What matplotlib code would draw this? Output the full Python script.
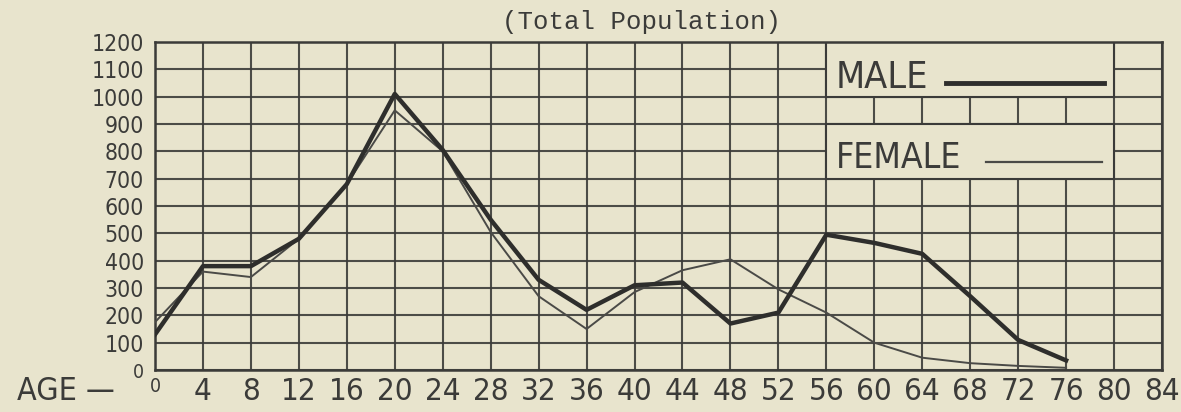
import matplotlib
matplotlib.use("Agg")
import matplotlib.pyplot as plt
from matplotlib.patches import Rectangle

# ---- data ----
ages = [0, 4, 8, 12, 16, 20, 24, 28, 32, 36, 40, 44, 48, 52, 56, 60, 64, 68, 72, 76]
male = [130, 380, 380, 480, 680, 1010, 805, 550, 330, 220, 310, 320, 170, 210, 495, 465, 425, 270, 110, 35]
female = [175, 360, 340, 480, 680, 950, 800, 505, 270, 150, 285, 365, 405, 295, 210, 100, 45, 25, 15, 8]
x_ticks = list(range(0, 85, 4))
x_labels = [str(v) for v in x_ticks]
y_ticks = list(range(0, 1201, 100))
y_labels = [str(v) for v in y_ticks]
title = "(Total Population)"
legend_labels = ["MALE", "FEMALE"]

BG = "#e8e4cd"
INK = "#3b3b39"
LETTER = dict(family="DejaVu Sans", fontstretch="condensed")

W, H = 1181, 412
fig = plt.figure(figsize=(W / 100, H / 100), dpi=100, facecolor=BG)
left, right, top, bottom = 155, 1162, 42, 370
ax = fig.add_axes([left / W, 1 - bottom / H, (right - left) / W, (bottom - top) / H])
ax.set_facecolor(BG)
ax.set_xlim(0, 84)
ax.set_ylim(0, 1200)

ax.set_xticks(x_ticks)
ax.set_yticks(y_ticks)
ax.grid(True, color=INK, linewidth=1.5, alpha=0.9)
for s in ax.spines.values():
    s.set_color(INK)
    s.set_linewidth(1.8)
ax.tick_params(length=0)

ax.set_xticklabels(x_labels, fontsize=22.5, color=INK, **LETTER)
ax.set_yticklabels(y_labels, fontsize=16.5, color=INK, **LETTER)
ax.tick_params(axis="x", pad=5)
ax.tick_params(axis="y", pad=8)
for lab in ax.get_xticklabels() + ax.get_yticklabels():
    if lab.get_text() == "0":
        lab.set_fontsize(14)

ax.plot(ages, female, color="#4a4a47", linewidth=1.4, zorder=3, solid_joinstyle="round")
ax.plot(ages, male, color="#2e2e2c", linewidth=3.2, zorder=4, solid_joinstyle="round")

# legend boxes cut into the grid
for y0 in (1000, 700):
    ax.add_patch(Rectangle((56, y0), 24, 200, facecolor=BG, edgecolor=INK,
                           linewidth=1.5, zorder=2.5))
ax.text(56.8, 1068, legend_labels[0], fontsize=27, color=INK,
        va="center", ha="left", zorder=5, **LETTER)
ax.plot([66.0, 79.2], [1050, 1050], color="#2e2e2c", linewidth=3.5, zorder=5)
ax.text(56.8, 776, legend_labels[1], fontsize=25.5, color=INK,
        va="center", ha="left", zorder=5, **LETTER)
ax.plot([69.3, 79.0], [761, 761], color="#4a4a47", linewidth=1.6, zorder=5)

fig.text(642 / W, 1 - 22 / H, title, family=["Liberation Mono", "DejaVu Sans Mono"],
         fontsize=18.5, color=INK, ha="center", va="center")
fig.text(17 / W, 1 - 392 / H, "AGE \u2014\u2009", fontsize=23, color=INK,
         ha="left", va="center", **LETTER)

fig.savefig("out.png", dpi=100, facecolor=BG)
